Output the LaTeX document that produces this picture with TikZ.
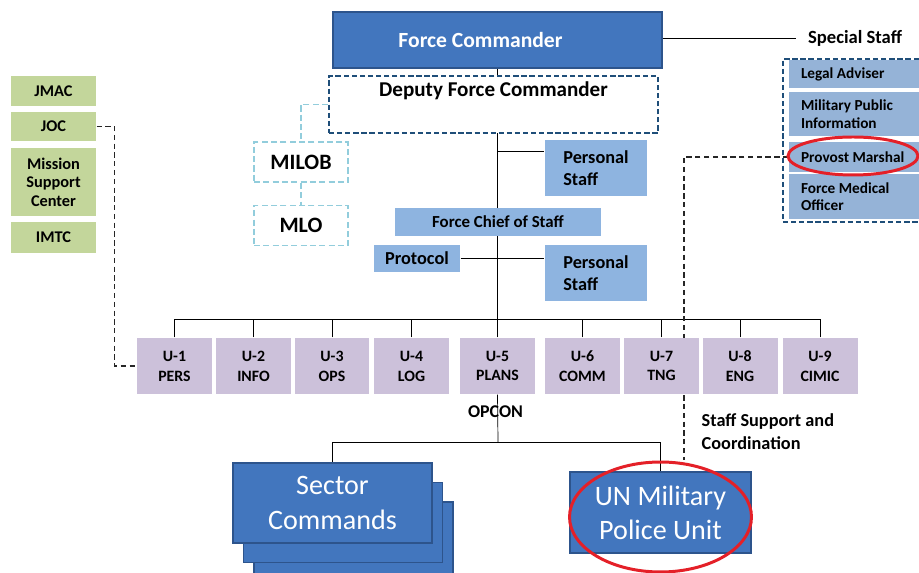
\documentclass[tikz,border=0pt]{standalone}
\usepackage{fontspec}
\setmainfont{Carlito}
\usepackage{xcolor}
\usepackage{tikz}
\usetikzlibrary{arrows.meta}
\usetikzlibrary{backgrounds}
\usetikzlibrary{calc}
\usetikzlibrary{positioning}

\definecolor{cmdblue}{RGB}{66,118,190}
\definecolor{cmdedge}{RGB}{45,84,140}
\definecolor{staffblue}{RGB}{142,180,224}
\definecolor{ssblue}{RGB}{149,179,215}
\definecolor{ulilac}{RGB}{204,193,218}
\definecolor{mgreen}{RGB}{195,214,155}
\definecolor{locyan}{RGB}{146,205,220}
\definecolor{dfcedge}{RGB}{31,78,121}
\definecolor{ringred}{RGB}{228,32,40}

\begin{document}
\begin{tikzpicture}[x=0.02cm, y=-0.02cm, thick, align=center, inner sep=0pt,
	cmd node/.style={rectangle, fill=cmdblue, draw=cmdedge, line width=1pt, text=white},
	big node/.style={cmd node, minimum width=3.98cm, minimum height=1.6cm, font=\fontsize{16}{19.5}\selectfont},
	dfc node/.style={rectangle, fill=white, draw=dfcedge, line width=1.1pt, dash pattern=on 3pt off 1.6pt, font=\bfseries\fontsize{12}{14}\selectfont},
	staff node/.style={rectangle, fill=staffblue, font=\bfseries\fontsize{10.4}{12.3}\selectfont},
	ss node/.style={rectangle, fill=ssblue, minimum width=2.8cm, text width=2.32cm, inner xsep=0.24cm, align=flush left, font=\bfseries\fontsize{8.7}{10.4}\selectfont},
	ss frame/.style={rectangle, draw=dfcedge, line width=1.1pt, dash pattern=on 3pt off 1.6pt},
	lo node/.style={rectangle, fill=white, draw=locyan, line width=1.1pt, dash pattern=on 3.5pt off 1.8pt, minimum width=1.88cm, minimum height=0.8cm, font=\bfseries\fontsize{12.5}{14}\selectfont},
	u node/.style={rectangle, fill=ulilac, minimum width=1.5cm, minimum height=1.12cm, font=\bfseries\fontsize{9}{11.3}\selectfont},
	green node/.style={rectangle, fill=mgreen, minimum width=1.7cm, font=\bfseries\fontsize{9.3}{10.5}\selectfont},
	plain text/.style={font=\bfseries\fontsize{10.4}{13}\selectfont},
	lo link/.style={draw=locyan, line width=1.1pt, dash pattern=on 3.5pt off 1.8pt},
	dash link/.style={draw=black!85, line width=0.9pt, dash pattern=on 3pt off 2pt},
	red ring/.style={draw=ringred, line width=1.7pt},
]
\useasboundingbox (0,0) rectangle (919,573);
\node [cmd node, minimum width=6.58cm, minimum height=1.12cm, font=\bfseries\fontsize{12.3}{14}\selectfont] at (497.5,40) (FC) {\hspace*{-0.68cm}Force Commander};
\node [dfc node, minimum width=6.58cm, text height=0.42cm, text depth=0.72cm] at (493.5,104.5) (DFC) {Deputy Force Commander};
\node [plain text, inner xsep=0.22cm, font=\bfseries\fontsize{10.6}{13}\selectfont] at (855,38) (SST) {Special Staff};
%
\node [ss node, minimum height=0.56cm] at (859,74) (LA) {Legal Adviser};
\node [ss node, minimum height=0.88cm] at (859,114) (MPI) {Military Public\\Information};
\node [ss node, minimum height=0.6cm] at (859,157) (PM) {Provost Marshal};
\node [ss node, minimum height=0.9cm, font=\bfseries\fontsize{8.7}{9.4}\selectfont] at (859,196.5) (FMO) {Force Medical\\Officer};
\node [ss frame, minimum width=2.8cm, minimum height=3.26cm] at (853,140.5) (SSF) {};
\draw [red ring] (853,156) ellipse [x radius=1.3cm, y radius=0.38cm];
%
\node [lo node] at (301,162) (MILOB) {MILOB};
\node [lo node] at (301,225.5) (MLO) {MLO};
%
\node [staff node, minimum width=2.04cm, minimum height=1.12cm, align=left] at (596,168) (PS1) {Personal\\Staff};
\node [staff node, minimum width=4.12cm, minimum height=0.56cm, font=\bfseries\fontsize{9.6}{12}\selectfont] at (498,222) (FCoS) {Force Chief of Staff};
\node [staff node, minimum width=1.72cm, minimum height=0.54cm] at (417,258.5) (Prot) {Protocol};
\node [staff node, minimum width=2.04cm, minimum height=1.12cm, align=left] at (596,273) (PS2) {Personal\\Staff};
%
\node [green node, minimum height=0.6cm] at (53.5,91) (JMAC) {JMAC};
\node [green node, minimum height=0.58cm] at (53.5,126.5) (JOC) {JOC};
\node [green node, minimum height=1.36cm] at (53.5,182) (MSC) {Mission\\Support\\Center};
\node [green node, minimum height=0.62cm] at (53.5,237.5) (IMTC) {IMTC};
%
\foreach \x/\n/\t in {174.5/1/PERS, 253.5/2/INFO, 332/3/OPS, 411.5/4/LOG, 497.5/5/PLANS,
	582.5/6/COMM, 661.5/7/TNG, 740/8/ENG, 820/9/CIMIC}
	\node [u node] at (\x,366) (U\n) {U-\n\\\t};
%
\node [plain text, font=\bfseries\fontsize{10.2}{12}\selectfont] at (495.5,412) (OPCON) {OPCON};
\node [plain text, anchor=west, align=left] at (701,431.5) (SSC) {Staff Support and\\Coordination};
%
\node [big node] at (353.5,542) (SC3) {};
\node [big node] at (343,522.5) (SC2) {};
\node [big node] at (332.5,503) (SC1) {Sector\\Commands};
\node [big node, minimum width=3.62cm, minimum height=1.62cm] at (660.5,512.5) (MPU) {UN Military\\Police Unit};
\draw [red ring] ([yshift=-0.09cm]MPU.center) ellipse [x radius=1.82cm, y radius=1.1cm];
%
\begin{scope}[on background layer]
\draw (FC.south) -- (FC.south |- U5.north);
\draw (FC.east |- SST.west) -- (SST.west);
\coordinate (tap) at (498,151);
\draw (tap) -- (tap -| PS1.west);
\draw (Prot.east) -- (Prot.east -| PS2.west);
\coordinate (bus) at (498,319);
\draw (U1.north |- bus) -- (U9.north |- bus);
\foreach \i in {1,...,9}
	\draw (U\i.north) -- (U\i.north |- bus);
\coordinate (split) at (498,442);
\draw (U5.south) -- (split);
\draw (SC1.north) -- (SC1.north |- split) -- (split -| MPU.north) -- (MPU.north);
\draw [lo link] (DFC.west) -| (MILOB.north);
\draw [lo link] (MILOB.south) -- (MLO.north);
\draw [dash link] (JOC.east) -- ++(18,0) |- (U1.west);
\coordinate (sscend) at (684,460);
\draw [dash link] (PM.west) -| (sscend);
\end{scope}
\end{tikzpicture}
\end{document}
